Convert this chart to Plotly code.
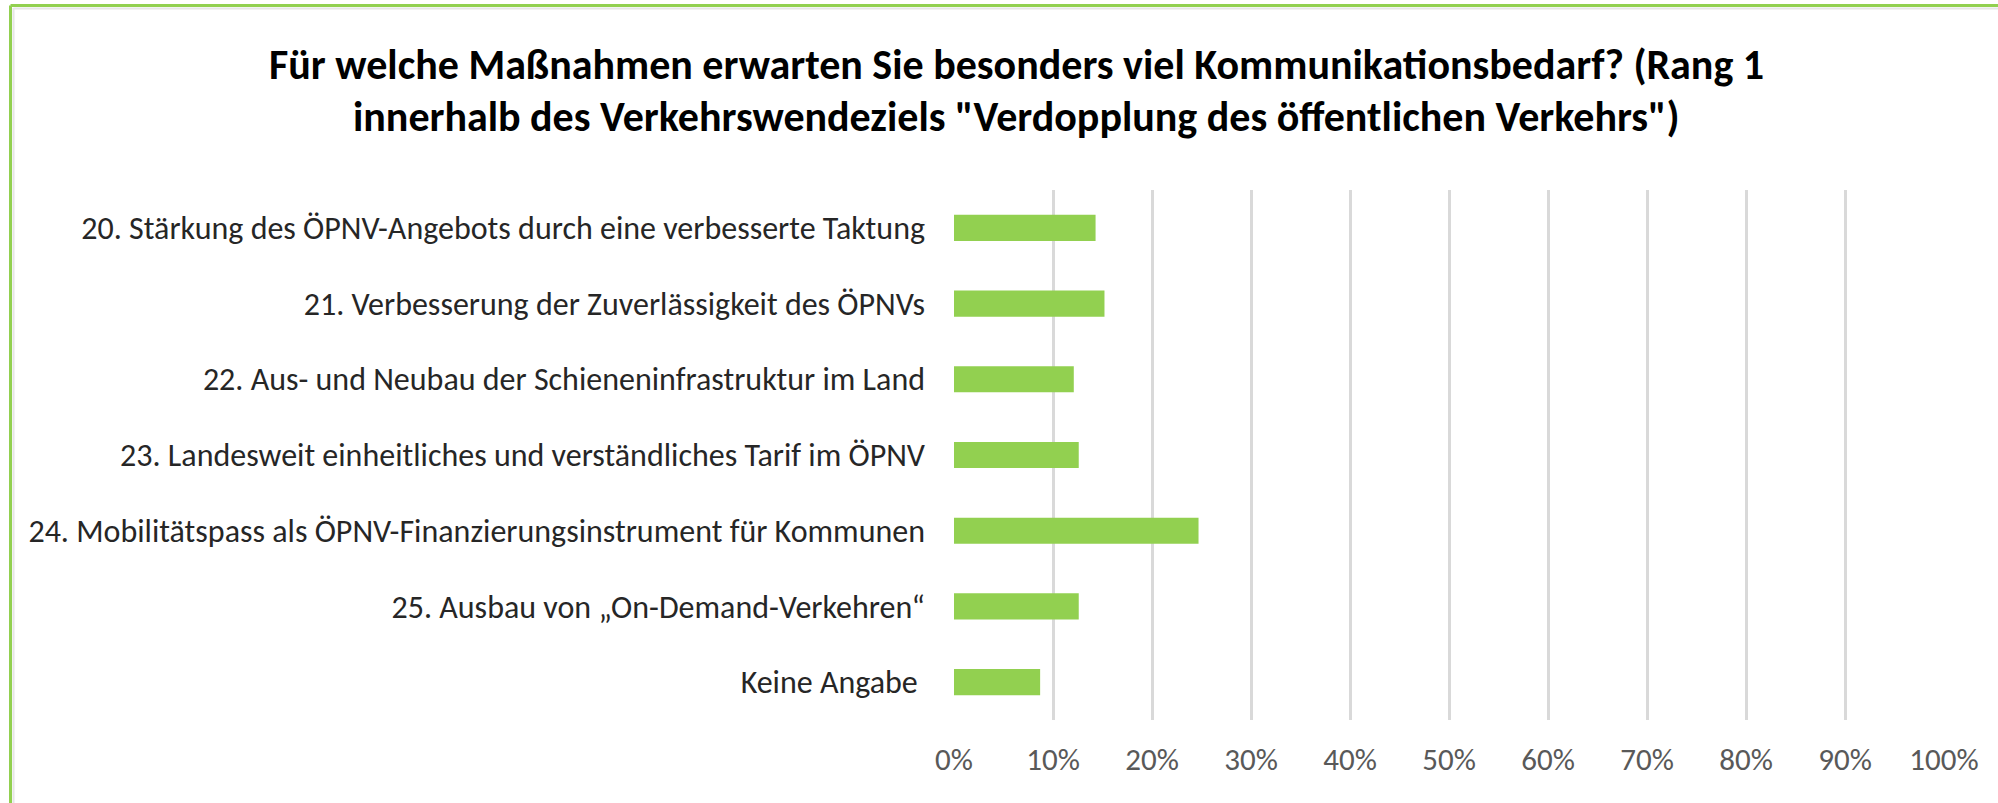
import plotly.graph_objects as go

categories = [
    "20. Stärkung des ÖPNV-Angebots durch eine verbesserte Taktung",
    "21. Verbesserung der Zuverlässigkeit des ÖPNVs",
    "22. Aus- und Neubau der Schieneninfrastruktur im Land",
    "23. Landesweit einheitliches und verständliches Tarif im ÖPNV",
    "24. Mobilitätspass als ÖPNV-Finanzierungsinstrument für Kommunen",
    "25. Ausbau von „On-Demand-Verkehren“",
    "Keine Angabe ",
]
values = [0.143, 0.152, 0.121, 0.126, 0.247, 0.126, 0.087]
x_ticks = [i / 10 for i in range(11)]
x_tick_labels = [f"{i * 10}%" for i in range(11)]
title_lines = [
    "Für welche Maßnahmen erwarten Sie besonders viel Kommunikationsbedarf? (Rang 1",
    "innerhalb des Verkehrswendeziels \"Verdopplung des öffentlichen Verkehrs\")",
]

W, H = 1998, 803
ML, MR, MT, MB = 954, 54, 190, 83
PW, PH = W - ML - MR, H - MT - MB

FONT = "Carlito, Lato, sans-serif"
GREEN = "#92D050"

fig = go.Figure(go.Bar(
    x=values, y=categories, orientation="h",
    marker=dict(color=GREEN, line=dict(width=0)),
    hoverinfo="skip",
))

def px_x(p):
    return (p - ML) / PW

def px_y(p):
    return (H - MB - p) / PH

title_y_px = [64, 117]
annotations = [
    dict(text=t, xref="paper", yref="paper", x=px_x(1016), y=px_y(yp),
         xanchor="center", yanchor="middle", showarrow=False,
         font=dict(family=FONT, size=42, color="#000000", weight="bold"))
    for t, yp in zip(title_lines, title_y_px)
]

fig.update_layout(
    width=W, height=H,
    margin=dict(l=ML, r=MR, t=MT, b=MB, pad=0),
    paper_bgcolor="white", plot_bgcolor="white",
    bargap=0.655,
    showlegend=False,
    annotations=annotations,
    xaxis=dict(
        range=[0, 1], tickvals=x_ticks, ticktext=x_tick_labels,
        showgrid=True, gridcolor="#D9D9D9", gridwidth=3,
        zeroline=False, showline=False, ticks="",
        tickfont=dict(family=FONT, size=31, color="#595959"),
        ticklabelstandoff=18,
    ),
    yaxis=dict(
        categoryorder="array", categoryarray=categories[::-1],
        autorange=True, showgrid=False, zeroline=False, showline=False,
        ticks="", tickfont=dict(family=FONT, size=32, color="#262626"),
        ticklabelstandoff=28,
    ),
    shapes=[
        dict(type="line", xref="paper", yref="paper",
             x0=px_x(10.5), x1=px_x(10.5), y0=px_y(5.5), y1=px_y(820),
             line=dict(color=GREEN, width=3)),
        dict(type="line", xref="paper", yref="paper",
             x0=px_x(10.5), x1=px_x(2020), y0=px_y(5.5), y1=px_y(5.5),
             line=dict(color=GREEN, width=3)),
        dict(type="line", xref="paper", yref="paper",
             x0=px_x(13.5), x1=px_x(13.5), y0=px_y(8), y1=px_y(820),
             line=dict(color="#E6E6E6", width=2)),
        dict(type="line", xref="paper", yref="paper",
             x0=px_x(13.5), x1=px_x(2020), y0=px_y(8.5), y1=px_y(8.5),
             line=dict(color="#E6E6E6", width=2)),
    ],
)

fig.write_html(
    "out.html",
    config={"displayModeBar": False},
    post_script="document.body.style.margin='0';document.body.style.overflow='hidden';",
)
